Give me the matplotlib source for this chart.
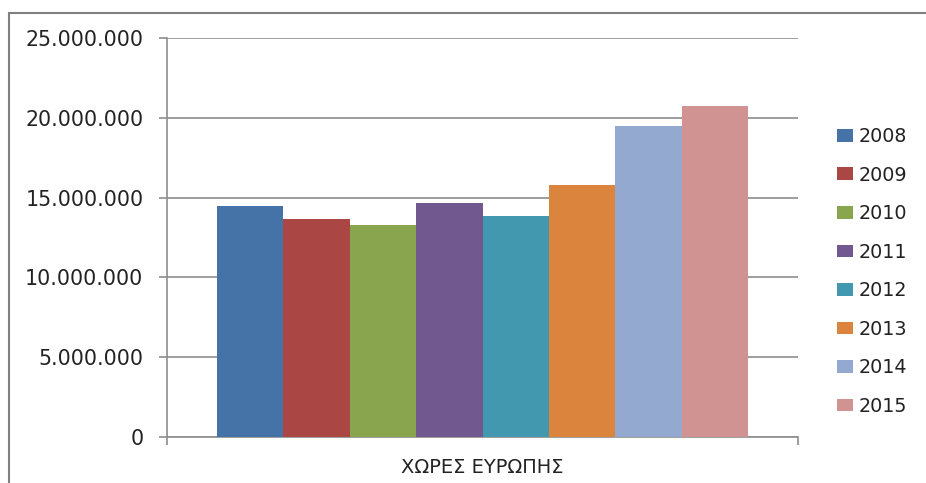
import numpy as np
import matplotlib.pyplot as plt
from matplotlib.patches import Rectangle
from matplotlib.ticker import FuncFormatter

# arrivals per year, one category
years = ['2008', '2009', '2010', '2011', '2012', '2013', '2014', '2015']
values = [14460000, 13640000, 13310000, 14640000, 13870000, 15790000, 19500000, 20730000]
category = 'ΧΩΡΕΣ ΕΥΡΩΠΗΣ'
colors = ['#4572A7', '#AA4643', '#89A54E', '#71588F', '#4198AF', '#DB843D', '#93A9CF', '#D19392']

W, H = 926, 483
fig = plt.figure(figsize=(W / 100, H / 100), dpi=100)
ax = fig.add_axes([167 / W, 1 - 437 / H, (798 - 167) / W, (437 - 38) / H])

n = len(years)
bw = 1 / (n + 1.5)
for i, (yr, v, c) in enumerate(zip(years, values, colors)):
    ax.bar((i - (n - 1) / 2) * bw, v, width=bw, color=c, label=yr, zorder=3)

ax.set_xlim(-0.5, 0.5)
ax.set_ylim(0, 25000000)
ax.set_yticks(np.arange(0, 25000001, 5000000))
ax.yaxis.set_major_formatter(FuncFormatter(lambda v, p: f'{int(v):,}'.replace(',', '.')))
ax.grid(axis='y', color='#8e8e8e', lw=1.2, zorder=0)

ax.set_xticks([0])
ax.set_xticklabels([category])
ax.set_xticks([-0.5, 0.5], minor=True)
ax.tick_params(axis='x', which='major', length=0, pad=15, labelsize=14, colors='#222222')
ax.tick_params(axis='x', which='minor', length=6, width=1.2, color='#8e8e8e')
ax.tick_params(axis='y', length=6, width=1.2, color='#8e8e8e', pad=11,
               labelsize=14.8, labelcolor='#222222')

for s in ['top', 'right']:
    ax.spines[s].set_visible(False)
for s in ['left', 'bottom']:
    ax.spines[s].set_color('#8e8e8e')
    ax.spines[s].set_linewidth(1.2)

fig.legend(loc='upper left', bbox_to_anchor=(837 / W, 1 - 127 / H), frameon=False,
           fontsize=13.8, handlelength=0.85, handleheight=0.64, handletextpad=0.3,
           labelspacing=1.02, borderpad=0, borderaxespad=0, labelcolor='#222222')

# chart border
fig.patches.append(Rectangle((9 / W, -0.1), 1.1, 1.1 - 13 / H, transform=fig.transFigure,
                             fill=False, edgecolor='#808080', lw=1.5))

fig.savefig('out.png', dpi=100)
